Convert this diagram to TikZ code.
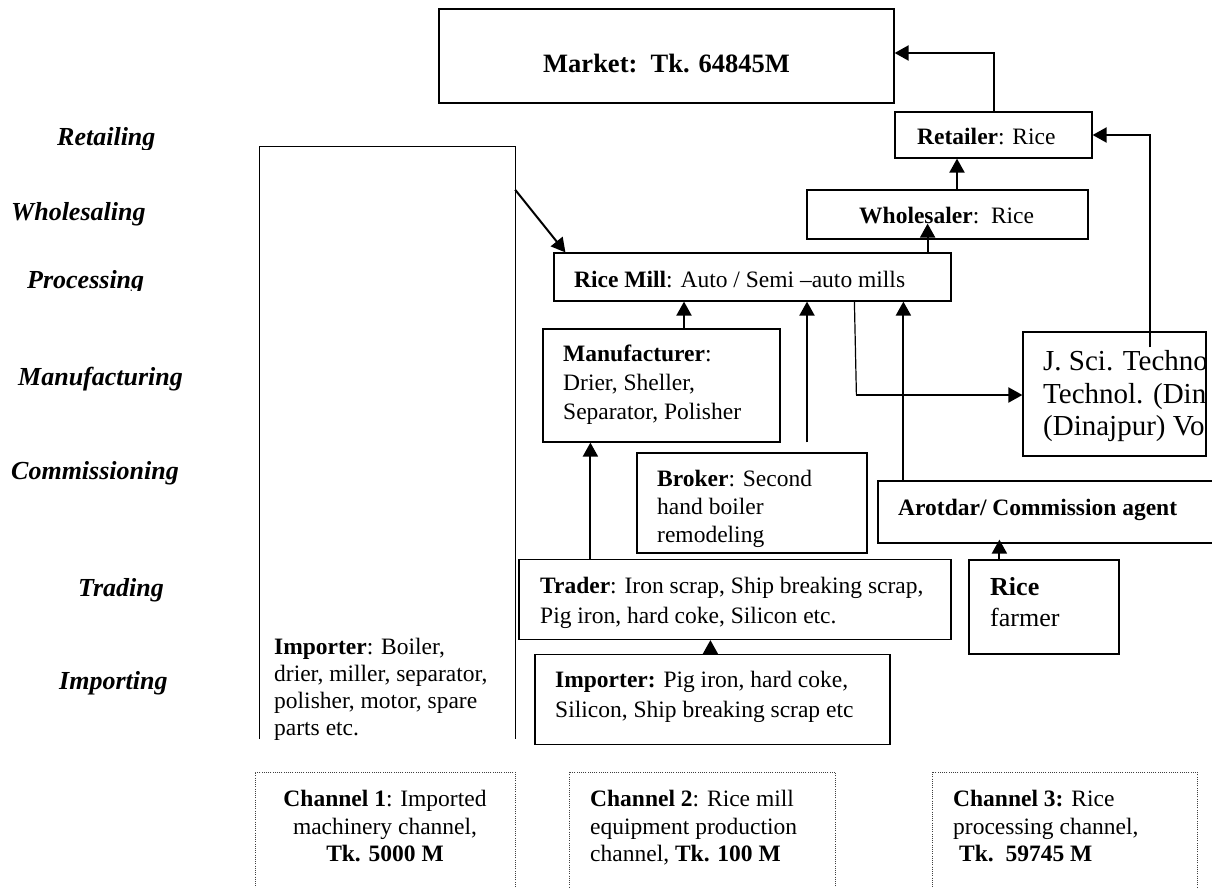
\documentclass[tikz,border=0pt]{standalone}
\usepackage{fontspec}
\setmainfont{Liberation Serif}
\usetikzlibrary{arrows.meta,calc}
\begin{document}
\begin{tikzpicture}[x=1pt,y=-1pt,
  bx/.style={draw, line width=1.2pt, inner sep=0pt},
  chb/.style={draw=black!75, line width=0.9pt, dash pattern=on 1pt off 1.2pt, inner sep=0pt},
  arr/.style={-{Triangle[width=15pt,length=14pt]}, line width=2pt},
  tx/.style={anchor=base west, inner sep=0pt, font=\fontsize{23.5}{28}\selectfont},
  txc/.style={anchor=base, inner sep=0pt, font=\fontsize{23.5}{28}\selectfont},
  big/.style={anchor=base west, inner sep=0pt, font=\fontsize{26}{32}\selectfont},
  lab/.style={anchor=base west, inner sep=0pt, font=\fontsize{26}{30}\selectfont\bfseries\itshape}]
\fill[white] (0,0) rectangle (1212,888);
\useasboundingbox (0,0) rectangle (1212,888);

% stage labels
\begin{scope}
\clip (0,100) rectangle (250,149);
\node[lab] (lret) at (57,146) {Retailing};
\end{scope}
\node[lab] (lwhl) at (11,220) {Wholesaling};
\begin{scope}
\clip (0,240) rectangle (250,290);
\node[lab] (lpro) at (27,288) {Processing};
\end{scope}
\node[lab] (lman) at (18,385) {Manufacturing};
\node[lab] (lcom) at (11,479) {Commissioning};
\node[lab] (ltrd) at (78,596) {Trading};
\node[lab] (limp) at (59,689) {Importing};

% boxes
\node[bx, minimum width=455, minimum height=94] (mkt) at (666.5,56) {};
\node[bx, minimum width=197, minimum height=46] (ret) at (993.5,135) {};
\node[bx, minimum width=281, minimum height=49] (whl) at (947.5,214.5) {};
\node[bx, minimum width=397, minimum height=48] (rm) at (752.5,277) {};
\node[bx, minimum width=237, minimum height=113] (mfg) at (661.5,385.5) {};
\node[bx, minimum width=230, minimum height=100] (brk) at (752,503) {};
\node[bx, minimum width=183, minimum height=124] (jsci) at (1114.5,394) {};
\node[bx, minimum width=342, minimum height=62] (arot) at (1049,512) {};
\node[bx, minimum width=150, minimum height=94] (farm) at (1044,607) {};
\node[bx, minimum width=432, minimum height=80] (trd) at (735,599.5) {};
\node[bx, minimum width=355, minimum height=90] (imp2) at (712.5,699.5) {};
\node[inner sep=0pt, minimum width=255, minimum height=592] (imp1) at (387.5,443) {};
\draw[line width=1.2pt] (imp1.south west) -- (imp1.north west) -- (imp1.north east) -- (imp1.south east);

% channel boxes
\node[chb, minimum width=260, minimum height=130] (ch1) at (385,837) {};
\node[chb, minimum width=266, minimum height=130] (ch2) at (702,837) {};
\node[chb, minimum width=265, minimum height=130] (ch3) at (1064.5,837) {};

% texts
\node[anchor=base, inner sep=0pt, font=\fontsize{26.5}{32}\selectfont\bfseries] (mktT) at (666.5,73) {Market:\ \ Tk. 64845M};
\node[tx] (retT) at (917,144) {\textbf{Retailer}: Rice};
\node[tx] (whlT) at (859,223) {\textbf{Wholesaler}:\ \ Rice};
\node[tx] (rmT) at (574,287) {\textbf{Rice Mill}: Auto / Semi –auto mills};
\node[tx] (mfgA) at (563,361) {\textbf{Manufacturer}:};
\node[tx] (mfgB) at (563,390) {Drier, Sheller,};
\node[tx] (mfgC) at (563,419) {Separator, Polisher};
\begin{scope}
\clip (637,453) rectangle (867,547);
\node[tx] (brkA) at (657,486) {\textbf{Broker}: Second};
\node[tx] (brkB) at (657,514) {hand boiler};
\node[tx] (brkC) at (657,542) {remodeling};
\end{scope}
\begin{scope}
\clip (1023,332) rectangle (1206,456);
\node[anchor=base west, inner sep=0pt, font=\fontsize{29}{33}\selectfont] (jsA) at (1043,370) {J. Sci. Techno};
\node[anchor=base west, inner sep=0pt, font=\fontsize{29}{33}\selectfont] (jsB) at (1043,403) {Technol. (Din};
\node[anchor=base west, inner sep=0pt, font=\fontsize{29}{33}\selectfont] (jsC) at (1043,435) {(Dinajpur) Vo};
\end{scope}
\node[tx, font=\fontsize{23.5}{28}\selectfont\bfseries] (arotT) at (898,515) {Arotdar/ Commission agent};
\node[big, font=\fontsize{26}{32}\selectfont\bfseries] (farmA) at (990,595) {Rice};
\node[big] (farmB) at (990,626) {farmer};
\node[tx] (trdA) at (540,593) {\textbf{Trader}: Iron scrap, Ship breaking scrap,};
\node[tx] (trdB) at (540,623) {Pig iron, hard coke, Silicon etc.};
\node[tx] (imp2A) at (555,687) {\textbf{Importer:} Pig iron, hard coke,};
\node[tx] (imp2B) at (555,717) {Silicon, Ship breaking scrap etc};
\begin{scope}
\clip (260,147) rectangle (515,739);
\node[tx] (imp1A) at (274,654) {\textbf{Importer}: Boiler,};
\node[tx] (imp1B) at (274,681) {drier, miller, separator,};
\node[tx] (imp1C) at (274,708) {polisher, motor, spare};
\node[tx] (imp1D) at (274,735) {parts etc.};
\end{scope}
\node[txc] (ch1A) at (385,806) {\textbf{Channel 1}: Imported};
\node[txc] (ch1B) at (385,834) {machinery channel,};
\node[txc] (ch1C) at (385,861) {\textbf{Tk. 5000 M}};
\node[tx] (ch2A) at (590,806) {\textbf{Channel 2}: Rice mill};
\node[tx] (ch2B) at (590,834) {equipment production};
\node[tx] (ch2C) at (590,861) {channel, \textbf{Tk. 100 M}};
\node[tx] (ch3A) at (953,806) {\textbf{Channel 3:} Rice};
\node[tx] (ch3B) at (953,834) {processing channel,};
\node[tx] (ch3C) at (959,861) {\textbf{Tk.\ \ 59745 M}};

% connectors
\draw[arr] (ret.north) |- ($(mkt.east)+(0,-3)$);
\coordinate (a1) at ($(whl.north)+(9.5,0)$);
\draw[arr] (a1) -- (a1 |- ret.south);
\coordinate (a2) at ($(rm.north east)+(-24,0)$);
\draw[arr] (a2) -- ($(a2 |- whl.south)+(0,-16)$);
\coordinate (a3) at ($(jsci.north west)+(128,16)$);
\draw[arr] (a3) |- (ret.east);
\coordinate (a4) at ($(imp1.north east)+(0,43)$);
\draw[arr] (a4) -- ($(rm.north west)+(12,0)$);
\coordinate (a5) at ($(mfg.north)+(22.5,0)$);
\draw[arr] (a5) -- (a5 |- rm.south);
\coordinate (a6) at ($(brk.north)+(55,-10)$);
\draw[arr] (a6) -- (a6 |- rm.south);
\coordinate (a7) at ($(rm.south west)+(301,0)$);
\coordinate (a8) at ($(jsci.west)+(-166,1)$);
\draw[line width=1.2pt] (a7) -- (a8);
\draw[arr] (a8) -- (a8 -| jsci.west);
\coordinate (a9) at ($(arot.north west)+(26,0)$);
\draw[arr] (a9) -- (a9 |- rm.south);
\coordinate (a10) at ($(trd.north west)+(72,0)$);
\draw[arr] (a10) -- (a10 |- mfg.south);
\coordinate (a11) at ($(farm.north west)+(31,0)$);
\draw[arr] (a11) -- ($(a11 |- arot.south)+(0,-4)$);
\coordinate (a12) at ($(imp2.north west)+(176,0)$);
\draw[arr] (a12) -- (a12 |- trd.south);
\end{tikzpicture}
\end{document}
